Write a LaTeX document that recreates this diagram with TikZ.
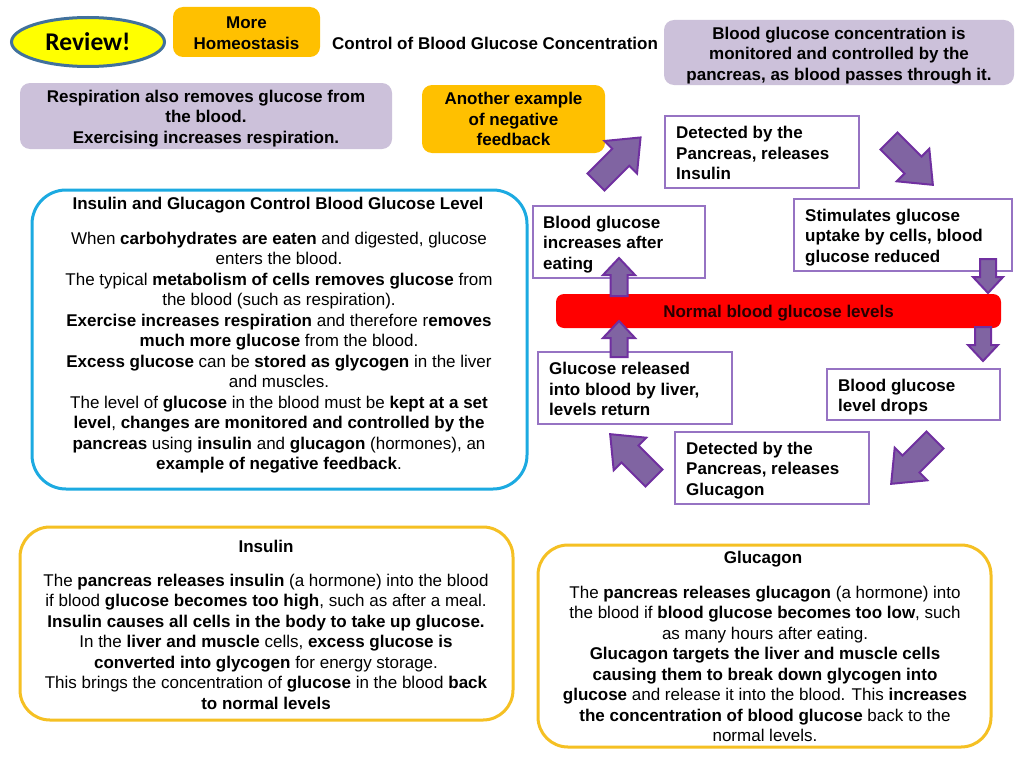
\documentclass[tikz,border=0pt]{standalone}
\usepackage{fontspec}
\usetikzlibrary{shapes.geometric}
\setmainfont{Liberation Sans}
\newfontfamily\calibfont{Carlito}
\definecolor{lav}{RGB}{204,193,218}
\definecolor{orng}{RGB}{255,192,0}
\definecolor{boxpur}{RGB}{150,115,195}
\definecolor{arrfill}{RGB}{128,100,162}
\definecolor{arrline}{RGB}{112,48,160}
\definecolor{bluebd}{RGB}{28,170,225}
\definecolor{goldbd}{RGB}{245,192,35}
\definecolor{revbd}{RGB}{65,113,156}
\definecolor{revfill}{RGB}{255,255,0}
\newcommand\myfs{\fontsize{17}{20.5}\selectfont}
\newcommand\blockarr[7]{%
  \begin{scope}[shift={(#1,#2)},rotate=#3]
    \filldraw[arrowshape] (0,-#5) -- ({#4-#7},-#5) -- ({#4-#7},-#6) -- (#4,0)
      -- ({#4-#7},#6) -- ({#4-#7},#5) -- (0,#5) -- cycle;
  \end{scope}}
\tikzset{
  wbox/.style={draw=boxpur, line width=1.3pt, fill=white, inner sep=0pt},
  wtext/.style={align=left, font=\bfseries\myfs, inner sep=0pt, anchor=west},
  lavbox/.style={fill=lav, rounded corners=10pt, inner sep=0pt},
  orbox/.style={fill=orng, rounded corners=10pt, inner sep=0pt},
  bigblue/.style={draw=bluebd, line width=3pt, rounded corners=34pt, fill=white, inner sep=0pt},
  biggold/.style={draw=goldbd, line width=3pt, rounded corners=30pt, fill=white, inner sep=0pt},
  bodytext/.style={align=center, font=\myfs, inner sep=0pt},
  titletext/.style={align=center, font=\bfseries\myfs, inner sep=0pt},
  arrowshape/.style={fill=arrfill, draw=arrline, line width=2pt, line join=miter},
}
\begin{document}
\begin{tikzpicture}[x=1pt,y=-1pt]
\useasboundingbox (0,0) rectangle (1024,768);
\fill[white] (0,0) rectangle (1024,768);

% header
\node[ellipse, draw=revbd, line width=3pt, fill=revfill, minimum width=153pt, minimum height=49pt, inner sep=0pt,
  font=\calibfont\bfseries\fontsize{25.5}{28}\selectfont] (review) at (88,42) {Review!};
\node[orbox, minimum width=147pt, minimum height=50pt] (more) at (246.5,32) {};
\node[titletext] (moretext) at (246.5,33) {More\\Homeostasis};
\node[titletext] (title) at (495,43) {Control of Blood Glucose Concentration};
\node[lavbox, minimum width=350pt, minimum height=65pt] (monitor) at (839,52.5) {};
\node[titletext] (monitortext) at (839,55.5)
  {Blood glucose concentration is\\monitored and controlled by the\\pancreas, as blood passes through it.};
\node[lavbox, minimum width=372pt, minimum height=66pt] (resp) at (206,116) {};
\node[titletext] (resptext) at (206,118.5)
  {Respiration also removes glucose from\\the blood.\\Exercising increases respiration.};
\node[orbox, minimum width=183pt, minimum height=68pt] (another) at (513.5,119) {};
\node[titletext] (anothertext) at (513.5,119)
  {Another example\\of negative\\feedback};

% cycle boxes
\node[wbox, minimum width=194pt, minimum height=72pt] (detins) at (762,152) {};
\node[wtext] (detinstext) at (676,153) {Detected by the\\Pancreas, releases\\Insulin};
\node[wbox, minimum width=218pt, minimum height=72pt] (stim) at (903,235) {};
\node[wtext] (stimtext) at (805,237.5) {Stimulates glucose\\uptake by cells, blood\\glucose reduced};
\node[wbox, minimum width=172pt, minimum height=72pt] (incr) at (619,242) {};
\node[wtext] (incrtext) at (543,244.5) {Blood glucose\\increases after\\eating};
\node[fill=red, rounded corners=8pt, minimum width=445pt, minimum height=34pt, inner sep=0pt] (normal) at (778.5,311) {};
\node[titletext, text=black!85!red] (normaltext) at (778.5,313.5) {Normal blood glucose levels};
\node[wbox, minimum width=194pt, minimum height=72pt] (rel) at (635,388) {};
\node[wtext] (reltext) at (549,389) {Glucose released\\into blood by liver,\\levels return};
\node[wbox, minimum width=173pt, minimum height=51pt] (drops) at (913.5,394.5) {};
\node[wtext] (dropstext) at (838,397) {Blood glucose\\level drops};
\node[wbox, minimum width=194pt, minimum height=72pt] (detglu) at (772,468) {};
\node[wtext] (detglutext) at (686,470.5) {Detected by the\\Pancreas, releases\\Glucagon};

% block arrows
\blockarr{596}{182}{45}{63}{12}{23}{28}
\blockarr{889}{141}{-45}{62}{12}{23}{28}
\blockarr{935}{440}{-135}{62}{12}{23}{28}
\blockarr{654}{478}{135}{62}{12}{23}{28}
\blockarr{988}{259}{-90}{34}{8}{15}{16}
\blockarr{983}{327}{-90}{34}{8}{15}{16}
\blockarr{619}{296}{90}{38}{8.5}{16}{17}
\blockarr{619}{357}{90}{36}{8.5}{16}{17}

% blue info box
\node[bigblue, minimum width=495pt, minimum height=299pt] (infobox) at (279.5,339.5) {};
\node[titletext] (infotitle) at (278,205) {Insulin and Glucagon Control Blood Glucose Level};
\node[bodytext] (infobody) at (279,352.5) {%
When \textbf{carbohydrates are eaten} and digested, glucose\\
enters the blood.\\
The typical \textbf{metabolism of cells removes glucose} from\\
the blood (such as respiration).\\
\textbf{Exercise increases respiration} and therefore r\textbf{emoves}\\
\textbf{much more glucose} from the blood.\\
\textbf{Excess glucose} can be \textbf{stored as glycogen} in the liver\\
and muscles.\\
The level of \textbf{glucose} in the blood must be \textbf{kept at a set}\\
\textbf{level}, \textbf{changes are monitored and controlled by the}\\
\textbf{pancreas} using \textbf{insulin} and \textbf{glucagon} (hormones), an\\
\textbf{example of negative feedback}.};

% insulin box
\node[biggold, minimum width=493pt, minimum height=193pt] (insbox) at (266.5,623.5) {};
\node[titletext] (institle) at (266,546) {Insulin};
\node[bodytext] (insbody) at (266,641.5) {%
The \textbf{pancreas releases insulin} (a hormone) into the blood\\
if blood \textbf{glucose becomes too high}, such as after a meal.\\
\textbf{Insulin causes all cells in the body to take up glucose.}\\
In the \textbf{liver and muscle} cells, \textbf{excess glucose is}\\
\textbf{converted into glycogen} for energy storage.\\
This brings the concentration of \textbf{glucose} in the blood \textbf{back}\\
\textbf{to normal levels}};

% glucagon box
\node[biggold, minimum width=453pt, minimum height=202pt] (glubox) at (764.5,646) {};
\node[titletext] (glutitle) at (763,559) {Glucagon};
\node[bodytext] (glubody) at (765,664) {%
The \textbf{pancreas releases glucagon} (a hormone) into\\
the blood if \textbf{blood glucose becomes too low}, such\\
as many hours after eating.\\
\textbf{Glucagon targets the liver and muscle cells}\\
\textbf{causing them to break down glycogen into}\\
\textbf{glucose} and release it into the blood. This \textbf{increases}\\
\textbf{the concentration of blood glucose} back to the\\
normal levels.};
\end{tikzpicture}
\end{document}
